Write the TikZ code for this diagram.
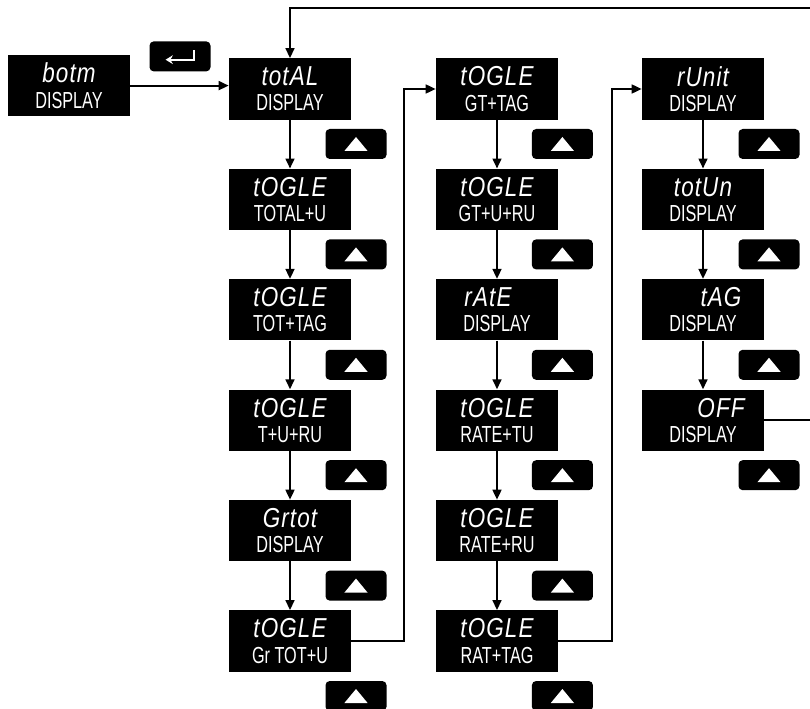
\documentclass[tikz,border=0pt]{standalone}
\usepackage{fontspec}
\usepackage{tikz}
\usetikzlibrary{arrows.meta, positioning}
\newfontfamily\segtop[FakeStretch=0.82, LetterSpace=4]{Liberation Sans}
\newfontfamily\seglow[FakeStretch=0.7]{Liberation Sans}
\newcommand{\segbig}{\segtop\itshape\fontsize{19.5}{18}\selectfont}
\newcommand{\segsml}{\seglow\fontsize{16.5}{18}\selectfont}
\newcommand{\uptri}{\tikz\fill[white, sharp corners] (0,0) -- (0.58,0) -- (0.29,0.35) -- cycle;}
\newcommand{\retkey}{\tikz\draw[white, sharp corners, line width=1.4pt, {Stealth[length=1.8mm, width=2.2mm]}-] (0,0) -- (0.72,0) -- (0.72,0.25);}
\tikzset{
  disp/.style={rectangle, fill=black, text=white, align=center, minimum width=3.05cm,
               minimum height=1.53cm, inner sep=2pt, font=\segsml},
  keyb/.style={rectangle, rounded corners=3pt, fill=black, minimum width=1.525cm,
               minimum height=0.75cm, inner sep=0pt},
  pipe/.style={-{Stealth[length=2.5mm, width=2.2mm, inset=0pt]}, line width=1.5pt, draw=black},
}

\begin{document}
\begin{tikzpicture}
  \useasboundingbox (0,0) rectangle (20.25,-17.725);
  \node[disp] (botm) at (1.725,-2.14) {{\segbig botm}\\DISPLAY};
  \node[keyb] (enter) at (4.5,-1.41) {\retkey};
  % first column
  \node[disp] (total) at (7.25,-2.225)  {{\segbig totAL}\\DISPLAY};
  \node[disp] (totu)  at (7.25,-4.985)  {{\segbig tOGLE}\\TOTAL+U};
  \node[disp] (tottag) at (7.25,-7.745) {{\segbig tOGLE}\\TOT+TAG};
  \node[disp] (turu)  at (7.25,-10.505) {{\segbig tOGLE}\\T+U+RU};
  \node[disp] (grtot) at (7.25,-13.265) {{\segbig Grtot}\\DISPLAY};
  \node[disp] (gtu)   at (7.25,-16.025) {{\segbig tOGLE}\\Gr TOT+U};
  % second column
  \node[disp] (gttag) at (12.425,-2.225)  {{\segbig tOGLE}\\GT+TAG};
  \node[disp] (gturu) at (12.425,-4.985)  {{\segbig tOGLE}\\GT+U+RU};
  \node[disp] (rate)  at (12.425,-7.745)  {{\segbig rAtE\hspace*{0.45cm}}\\DISPLAY};
  \node[disp] (ratetu) at (12.425,-10.505) {{\segbig tOGLE}\\RATE+TU};
  \node[disp] (rateru) at (12.425,-13.265) {{\segbig tOGLE}\\RATE+RU};
  \node[disp] (rattag) at (12.425,-16.025) {{\segbig tOGLE}\\RAT+TAG};
  % third column
  \node[disp] (runit) at (17.575,-2.225) {{\segbig rUnit}\\DISPLAY};
  \node[disp] (totun) at (17.575,-4.985) {{\segbig totUn}\\DISPLAY};
  \node[disp] (tag)   at (17.575,-7.745) {{\segbig\hspace*{0.9cm}tAG}\\DISPLAY};
  \node[disp] (off)   at (17.575,-10.505) {{\segbig\hspace*{0.9cm}OFF}\\DISPLAY};
  % up keys
  \foreach \y [count=\i] in {-3.6,-6.36,-9.12,-11.88,-14.64,-17.4} {
    \node[keyb] (upa\i) at (8.9,\y) {\uptri};
    \node[keyb] (upb\i) at (14.06,\y) {\uptri};
  }
  \foreach \y [count=\i] in {-3.6,-6.36,-9.12,-11.88} {
    \node[keyb] (upc\i) at (19.225,\y) {\uptri};
  }
  \coordinate (ret) at (20.28,-0.2);
  \draw[pipe] (botm.east) -- (botm.east -| total.west);
  \draw[pipe] (total) -- (totu); \draw[pipe] (totu) -- (tottag); \draw[pipe] (tottag) -- (turu);
  \draw[pipe] (turu) -- (grtot); \draw[pipe] (grtot) -- (gtu);
  \draw[pipe] (gtu.east) -- ++(1.325,0) |- (gttag.west);
  \draw[pipe] (gttag) -- (gturu); \draw[pipe] (gturu) -- (rate); \draw[pipe] (rate) -- (ratetu);
  \draw[pipe] (ratetu) -- (rateru); \draw[pipe] (rateru) -- (rattag);
  \draw[pipe] (rattag.east) -- ++(1.35,0) |- (runit.west);
  \draw[pipe] (runit) -- (totun); \draw[pipe] (totun) -- (tag); \draw[pipe] (tag) -- (off);
  \draw[pipe] (off.east) -| (ret) -| (total.north);
\end{tikzpicture}
\end{document}
